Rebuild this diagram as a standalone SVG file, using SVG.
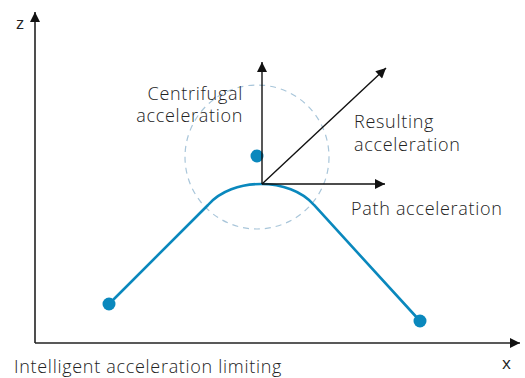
<svg xmlns="http://www.w3.org/2000/svg" width="525" height="378" viewBox="0 0 525 378">
<defs>
<marker id="ahb" viewBox="0 0 10 10" refX="10" refY="5" markerWidth="12" markerHeight="10" orient="auto" markerUnits="userSpaceOnUse">
<path d="M0,0 L10,5 L0,10 z" fill="#111"/>
</marker>
<style>
.t{font-family:"Open Sans","Liberation Sans",sans-serif;font-weight:300;font-size:18px;letter-spacing:0.7px;fill:#222}
.ax{stroke:#222;stroke-width:1.6;fill:none}
.ar{stroke:#111;stroke-width:1.4;fill:none}
.p{stroke:#0a88bd;stroke-width:2.6;fill:none}
.d{fill:#0a88bd}
</style>
</defs>
<g id="axes">
<line class="ax" x1="35" y1="343" x2="35" y2="12" marker-end="url(#ahb)"/>
<line class="ax" x1="35" y1="343" x2="520" y2="343" marker-end="url(#ahb)"/>
<text class="t" x="16" y="29" style="font-size:17px;font-weight:400;letter-spacing:0">z</text>
<text class="t" x="502" y="369" style="font-size:17px;font-weight:400;letter-spacing:0">x</text>
</g>
<g id="circle">
<circle cx="257" cy="157" r="72" fill="none" stroke="#a9c6da" stroke-width="1.2" stroke-dasharray="6,5"/>
</g>
<g id="path">
<path class="p" d="M109,304 L208,205 C232,177 290,177 314,205 L420,321"/>
<circle class="d" cx="109" cy="304" r="6.5"/>
<circle class="d" cx="420" cy="321" r="6.5"/>
<circle class="d" cx="257" cy="156" r="6.5"/>
</g>
<g id="connectors">
<line class="ar" x1="262" y1="184" x2="262" y2="62" marker-end="url(#ahb)"/>
<line class="ar" x1="262" y1="184" x2="385" y2="184" marker-end="url(#ahb)"/>
<line class="ar" x1="262" y1="184" x2="386" y2="68" marker-end="url(#ahb)"/>
</g>
<g id="labels">
<text class="t" x="243" y="100" text-anchor="end">Centrifugal</text>
<text class="t" x="243" y="122" text-anchor="end">acceleration</text>
<text class="t" x="354" y="128">Resulting</text>
<text class="t" x="354" y="151">acceleration</text>
<text class="t" x="351" y="215">Path acceleration</text>
<text class="t" x="14" y="373">Intelligent acceleration limiting</text>
</g>
</svg>
